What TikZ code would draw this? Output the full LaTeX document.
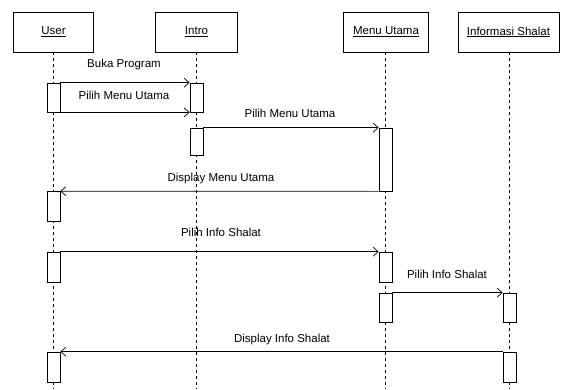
\documentclass[tikz,border=0pt]{standalone}
\usepackage{fontspec}
\setmainfont{Liberation Sans}
\usetikzlibrary{arrows.meta}
\tikzset{
  head/.style={draw, line width=0.7pt, fill=white, minimum height=40pt, inner sep=0pt, font=\fontsize{11.5}{13}\selectfont},
  act/.style={draw, line width=0.7pt, fill=white, minimum width=13pt, inner sep=0pt},
  life/.style={line width=0.7pt, dash pattern=on 3pt off 3pt},
  msg/.style={line width=0.7pt, -{Straight Barb[length=5pt,width=9pt]}},
  lbl/.style={font=\fontsize{11.5}{13}\selectfont, inner sep=0pt}
}
\begin{document}
\begin{tikzpicture}[x=1pt,y=-1pt]
\useasboundingbox (0,0) rectangle (564,389);
% headers
\node[head, minimum width=80pt] (user) at (53.5,32) {\underline{User}};
\node[head, minimum width=82pt] (intro) at (196.5,32) {\underline{Intro}};
\node[head, minimum width=85pt] (menu) at (386,32) {\underline{Menu Utama}};
\node[head, minimum width=101pt] (info) at (508.5,32) {\underline{Informasi Shalat}};
% lifeline ends
\coordinate (userEnd) at (53.5,389);
\coordinate (introEnd) at (196.5,389);
\coordinate (menuEnd) at (385.5,389);
\coordinate (infoEnd) at (509.5,389);
\draw[life] (user.south -| userEnd) -- (userEnd);
\draw[life] (intro.south -| introEnd) -- (introEnd);
\draw[life] (menu.south -| menuEnd) -- (menuEnd);
\draw[life] (info.south -| infoEnd) -- (infoEnd);
% activations
\node[act, minimum height=29pt] (u1) at (53.5,97.5) {};
\node[act, minimum height=29pt] (i1) at (196.5,97.5) {};
\node[act, minimum height=27pt] (i2) at (196.5,141.5) {};
\node[act, minimum height=63pt] (m1) at (385.5,159.5) {};
\node[act, minimum height=30pt] (u2) at (53.5,206.5) {};
\node[act, minimum height=30pt] (u3) at (53.5,267) {};
\node[act, minimum height=30pt] (m2) at (385.5,267) {};
\node[act, minimum height=29pt] (m3) at (385.5,307.5) {};
\node[act, minimum height=29pt] (f1) at (509.5,307.5) {};
\node[act, minimum height=30pt] (u4) at (53.5,367) {};
\node[act, minimum height=30pt] (f2) at (509.5,367) {};
% messages
\draw[msg] (u1.north east) -- (i1.north west);
\node[lbl] (t1) at (124,65) {Buka Program};
\draw[msg] (u1.south east) -- (i1.south west);
\node[lbl] (t2) at (124,95) {Pilih Menu Utama};
\draw[msg] (i2.north east) -- (m1.north west);
\node[lbl] (t3) at (290,113) {Pilih Menu Utama};
\draw[msg] (m1.south west) -- (u2.north east);
\node[lbl] (t4) at (221,179) {Display Menu Utama};
\draw[msg] (u3.north east) -- (m2.north west);
\node[lbl] (t5) at (221,232) {Pilih Info Shalat};
\draw[msg] (m3.north east) -- (f1.north west);
\node[lbl] (t6) at (447,274) {Pilih Info Shalat};
\draw[msg] (f2.north west) -- (u4.north east);
\node[lbl] (t7) at (282,340) {Display Info Shalat};
\end{tikzpicture}
\end{document}
